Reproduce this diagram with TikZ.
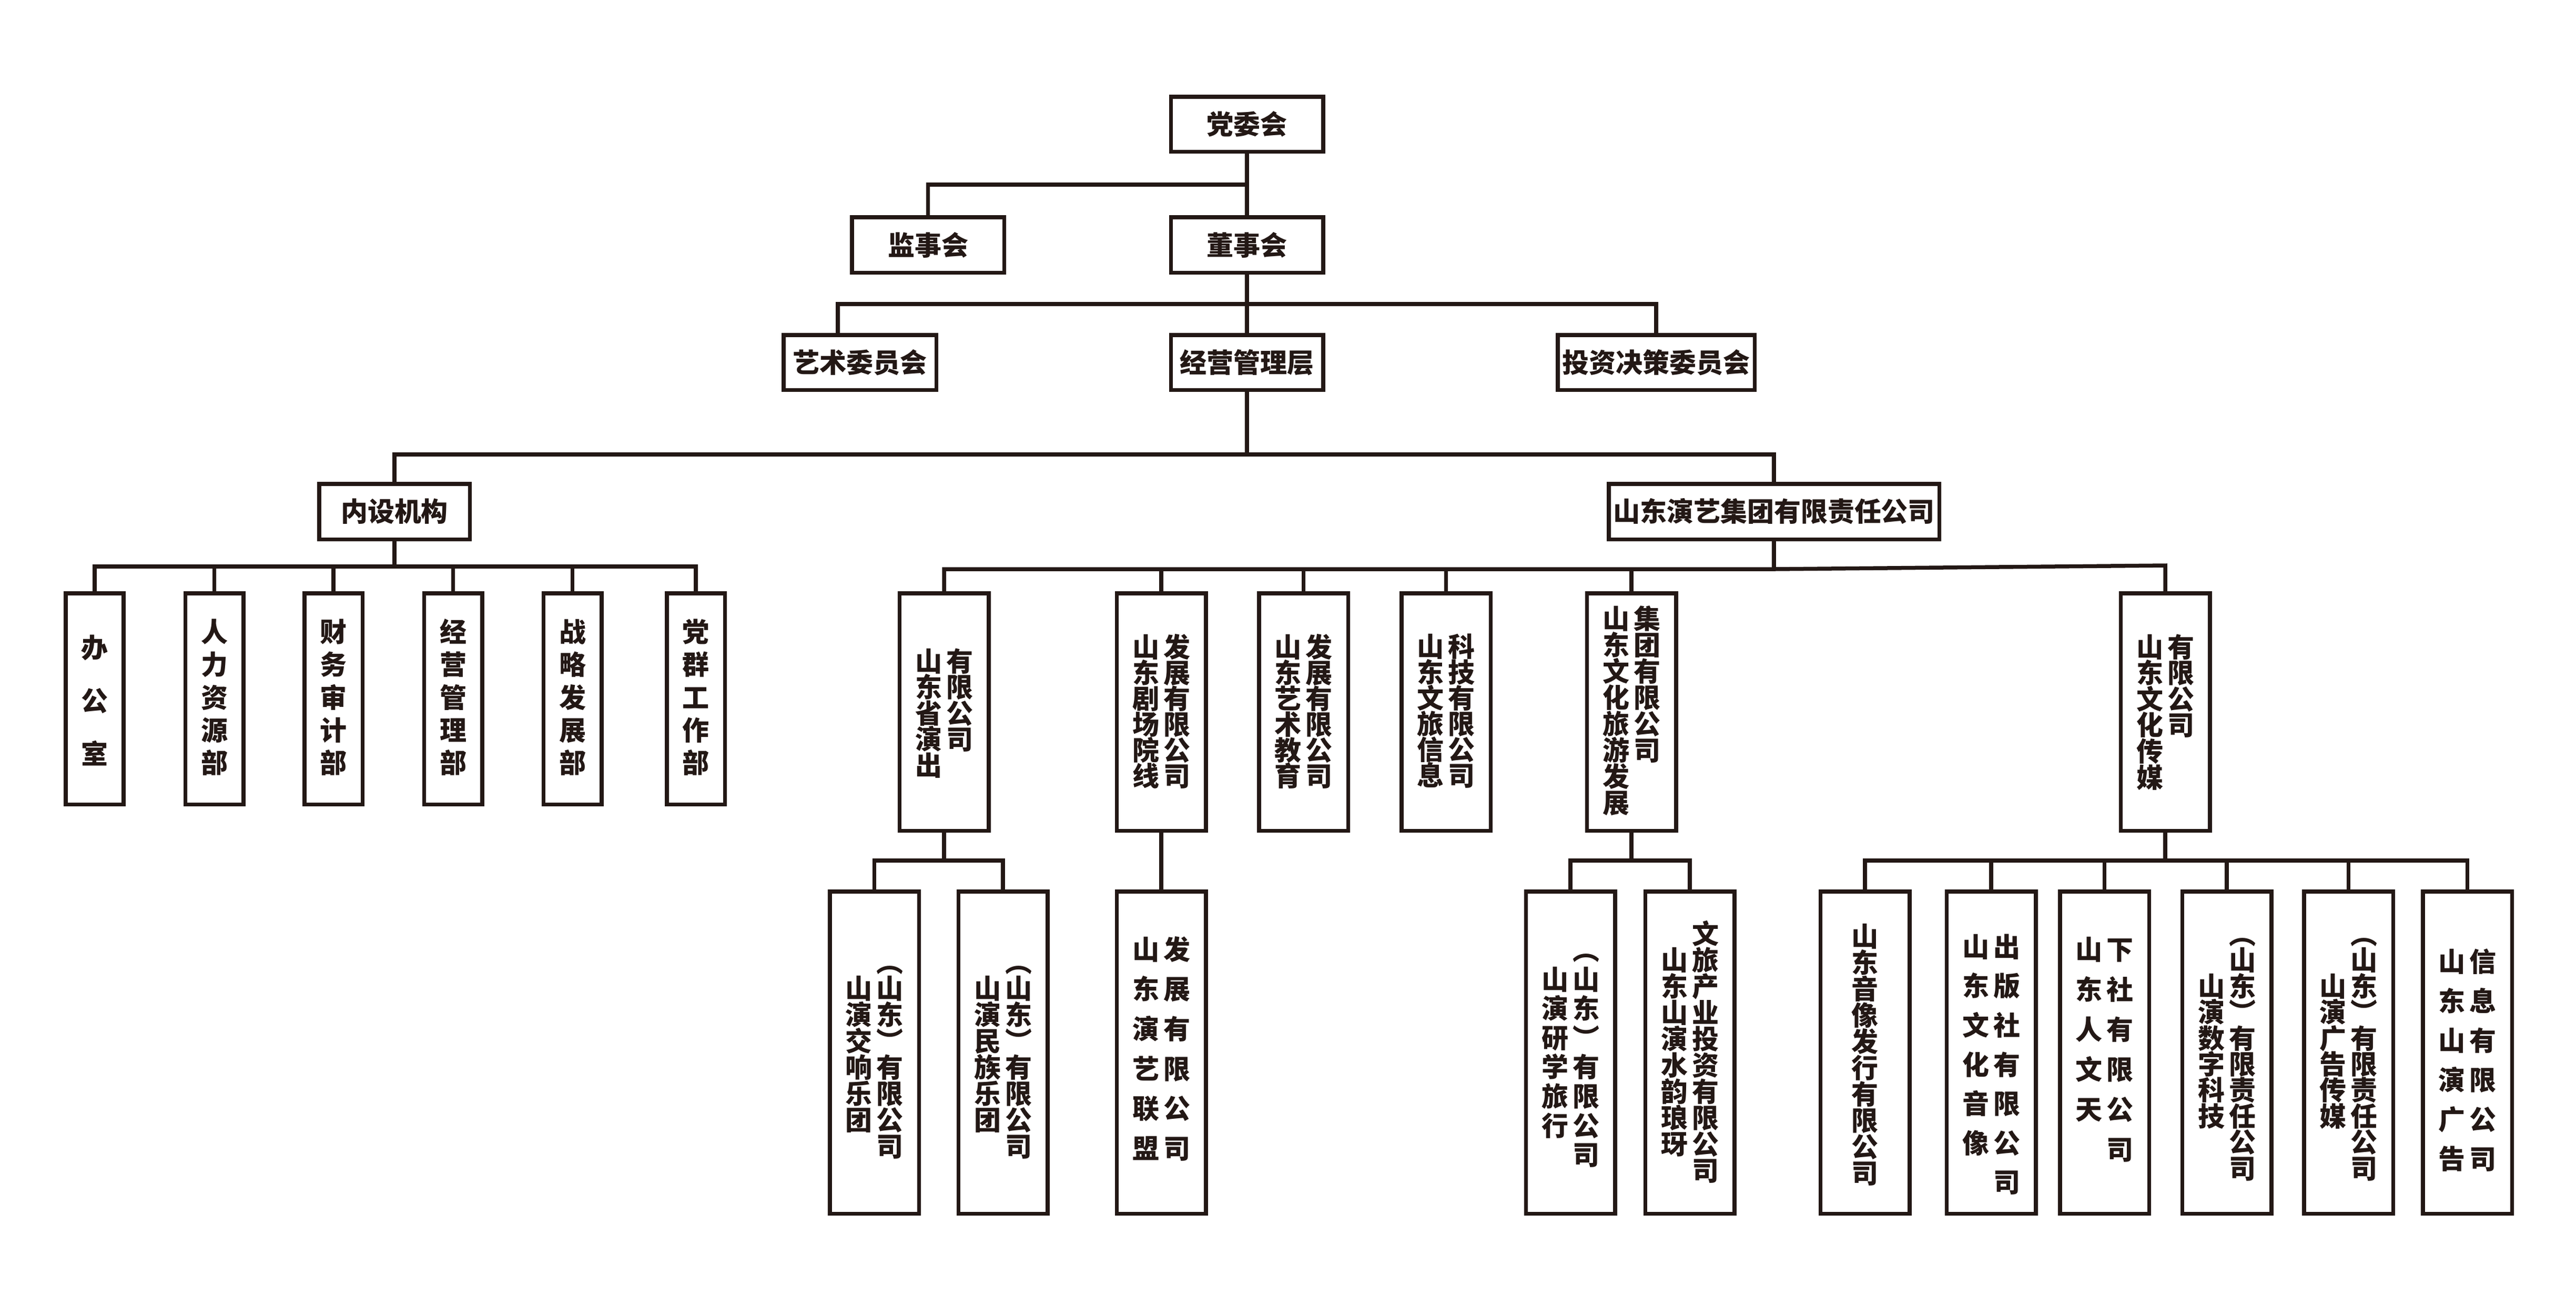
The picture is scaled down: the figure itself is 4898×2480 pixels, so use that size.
\documentclass[tikz,border=0pt]{standalone}
\usepackage{fontspec}
\setmainfont{Noto Sans CJK SC}
\definecolor{ink}{HTML}{231815}
\newcommand\vf{\fontsize{14.5pt}{14.5pt}\selectfont\bfseries}
\newcommand\hf{\fontsize{14.5pt}{14.5pt}\selectfont\bfseries}
\newcommand\vtext[2]{\vbox{\baselineskip=#1\relax\lineskiplimit=-100pt\relax\lineskip=0pt\relax\vtextA#2\relax}}
\def\vtextA#1{\ifx#1\relax\else\hbox to 1.1em{\hss#1\hss\vrule width 0pt height 0.88em depth 0.12em}\expandafter\vtextA\fi}
\tikzset{
  bx/.style 2 args={draw=ink, line width=0.075cm, fill=white, inner sep=0pt,
    minimum width=#1*0.01cm-0.075cm, minimum height=#2*0.01cm-0.075cm, font=\hf, text=ink},
  ln/.style={draw=ink, line width=0.075cm},
  vc/.style={anchor=north, inner sep=0pt, outer sep=0pt, font=\vf, text=ink, yshift=7.25pt}
}
\begin{document}
\begin{tikzpicture}[x=0.01cm, y=-0.01cm]
\useasboundingbox (0,0) rectangle (4898,2480);
\fill[white] (0,0) rectangle (4898,2480);
% ---- top levels
\node[bx={297}{112}] (dw) at (2371,236) {党委会};
\node[bx={297}{113}] (js) at (1764.5,465.5) {监事会};
\node[bx={297}{113}] (ds) at (2371,465.5) {董事会};
\node[bx={298}{112}] (ys) at (1635,689) {艺术委员会};
\node[bx={297}{112}] (jy) at (2371,689) {经营管理层};
\node[bx={382}{112}] (tz) at (3149,689) {投资决策委员会};
\node[bx={294}{113}] (ns) at (750,972.5) {内设机构};
\node[bx={636}{113}] (jt) at (3373,972.5) {山东演艺集团有限责任公司};
% ---- internal departments
\node[bx={118}{409}] (k1) at (180,1328.5) {};
\node[bx={118}{409}] (k2) at (407.5,1328.5) {};
\node[bx={118}{409}] (k3) at (634,1328.5) {};
\node[bx={118}{409}] (k4) at (861.5,1328.5) {};
\node[bx={118}{409}] (k5) at (1088.5,1328.5) {};
\node[bx={118}{409}] (k6) at (1323,1328.5) {};
\node[vc] (k1-t) at (180,1231) {\vtext{1.01cm}{办公室}};
\node[vc] (k2-t) at (407.5,1201) {\vtext{0.623cm}{人力资源部}};
\node[vc] (k3-t) at (634,1201) {\vtext{0.623cm}{财务审计部}};
\node[vc] (k4-t) at (861.5,1201) {\vtext{0.623cm}{经营管理部}};
\node[vc] (k5-t) at (1088.5,1201) {\vtext{0.623cm}{战略发展部}};
\node[vc] (k6-t) at (1323,1201) {\vtext{0.623cm}{党群工作部}};
% ---- group companies
\node[bx={177}{459}] (yc) at (1795,1353.5) {};
\node[bx={177}{459}] (jc) at (2208,1353.5) {};
\node[bx={177}{459}] (ysjy) at (2478.5,1353.5) {};
\node[bx={177}{459}] (xx) at (2749.5,1353.5) {};
\node[bx={177}{459}] (wl) at (3102,1353.5) {};
\node[bx={177}{459}] (cm) at (4117,1353.5) {};
\node[vc] (yc-l) at (1765.5,1257) {\vtext{0.495cm}{山东省演出}};
\node[vc] (yc-r) at (1824.5,1257) {\vtext{0.495cm}{有限公司}};
\node[vc] (jc-l) at (2178.5,1230) {\vtext{0.49cm}{山东剧场院线}};
\node[vc] (jc-r) at (2237.5,1230) {\vtext{0.49cm}{发展有限公司}};
\node[vc] (ysjy-l) at (2449,1230) {\vtext{0.49cm}{山东艺术教育}};
\node[vc] (ysjy-r) at (2508,1230) {\vtext{0.49cm}{发展有限公司}};
\node[vc] (xx-l) at (2720,1229) {\vtext{0.49cm}{山东文旅信息}};
\node[vc] (xx-r) at (2779,1229) {\vtext{0.49cm}{科技有限公司}};
\node[vc] (wl-l) at (3072.5,1176) {\vtext{0.50cm}{山东文化旅游发展}};
\node[vc] (wl-r) at (3131.5,1176) {\vtext{0.50cm}{集团有限公司}};
\node[vc] (cm-l) at (4087.5,1230) {\vtext{0.495cm}{山东文化传媒}};
\node[vc] (cm-r) at (4146.5,1230) {\vtext{0.495cm}{有限公司}};
% ---- subsidiaries
\node[bx={177}{620}] (jx) at (1662.5,2001) {};
\node[bx={177}{620}] (mz) at (1907,2001) {};
\node[bx={177}{620}] (lm) at (2208,2001) {};
\node[bx={177}{620}] (yx) at (2986,2001) {};
\node[bx={177}{620}] (sy) at (3213,2001) {};
\node[bx={177}{620}] (yxfx) at (3546,2001) {};
\node[bx={177}{620}] (cb) at (3786,2001) {};
\node[bx={177}{620}] (rw) at (4001.5,2001) {};
\node[bx={177}{620}] (sz) at (4234,2001) {};
\node[bx={177}{620}] (gg) at (4465.5,2001) {};
\node[bx={177}{620}] (xxgg) at (4691.5,2001) {};
\node[vc] (jx-r) at (1692,1829) {\vtext{0.50cm}{︵山东︶有限公司}};
\node[vc] (jx-l) at (1633,1879) {\vtext{0.50cm}{山演交响乐团}};
\node[vc] (mz-r) at (1936.5,1829) {\vtext{0.50cm}{︵山东︶有限公司}};
\node[vc] (mz-l) at (1877.5,1879) {\vtext{0.50cm}{山演民族乐团}};
\node[vc] (lm-l) at (2178.5,1805) {\vtext{0.755cm}{山东演艺联盟}};
\node[vc] (lm-r) at (2237.5,1805) {\vtext{0.755cm}{发展有限公司}};
\node[vc] (yx-r) at (3015.5,1806) {\vtext{0.556cm}{︵山东︶有限公司}};
\node[vc] (yx-l) at (2956.5,1861.6) {\vtext{0.556cm}{山演研学旅行}};
\node[vc] (sy-r) at (3242.5,1775) {\vtext{0.50cm}{文旅产业投资有限公司}};
\node[vc] (sy-l) at (3183.5,1825) {\vtext{0.50cm}{山东山演水韵琅玡}};
\node[vc] (yxfx-t) at (3546,1780) {\vtext{0.50cm}{山东音像发行有限公司}};
\node[vc] (cb-l) at (3756.5,1800) {\vtext{0.745cm}{山东文化音像}};
\node[vc] (cb-r) at (3815.5,1800) {\vtext{0.745cm}{出版社有限公司}};
\node[vc] (rw-l) at (3972,1805) {\vtext{0.76cm}{山东人文天}};
\node[vc] (rw-r) at (4031,1805) {\vtext{0.76cm}{下社有限公司}};
\node[vc] (sz-r) at (4263.5,1776) {\vtext{0.494cm}{︵山东︶有限责任公司}};
\node[vc] (sz-l) at (4204.5,1874.8) {\vtext{0.494cm}{山演数字科技}};
\node[vc] (gg-r) at (4495,1776) {\vtext{0.494cm}{︵山东︶有限责任公司}};
\node[vc] (gg-l) at (4436,1874.8) {\vtext{0.494cm}{山演广告传媒}};
\node[vc] (xxgg-l) at (4662,1828) {\vtext{0.75cm}{山东山演广告}};
\node[vc] (xxgg-r) at (4721,1828) {\vtext{0.75cm}{信息有限公司}};
% ---- bus coordinates
\coordinate (b1) at (2371,351);
\coordinate (b2) at (2371,578);
\coordinate (ysx) at (1593,578);
\coordinate (b3) at (2371,864);
\coordinate (b4) at (750,1077);
\coordinate (b5) at (3373,1082);
\coordinate (b5r) at (4117,1075);
\coordinate (b6) at (1795,1636);
\coordinate (b7) at (3102,1636);
\coordinate (b8) at (4117,1636);
% ---- connectors
\draw[ln] (dw.south) -- (ds.north);
\draw[ln] (js.north) |- (b1);
\draw[ln] (ds.south) -- (jy.north);
\draw[ln] (ys.north -| ysx) |- (b2) -| (tz.north);
\draw[ln] (jy.south) -- (b3);
\draw[ln] (ns.north) |- (b3) -| (jt.north);
\draw[ln] (ns.south) -- (b4);
\draw[ln] (k1.north) |- (b4) -| (k6.north);
\foreach \n in {k2,k3,k4,k5} \draw[ln] (\n.north) -- (\n.north |- b4);
\draw[ln] (jt.south) -- (b5);
\draw[ln] (yc.north) |- (b5) -- (b5r) -- (cm.north);
\foreach \n in {jc,ysjy,xx,wl} \draw[ln] (\n.north) -- (\n.north |- b5);
\draw[ln] (yc.south) -- (b6);
\draw[ln] (jx.north) |- (b6) -| (mz.north);
\draw[ln] (jc.south) -- (lm.north);
\draw[ln] (wl.south) -- (b7);
\draw[ln] (yx.north) |- (b7) -| (sy.north);
\draw[ln] (cm.south) -- (b8);
\draw[ln] (yxfx.north) |- (b8) -| (xxgg.north);
\foreach \n in {cb,rw,sz,gg} \draw[ln] (\n.north) -- (\n.north |- b8);
\end{tikzpicture}
\end{document}
